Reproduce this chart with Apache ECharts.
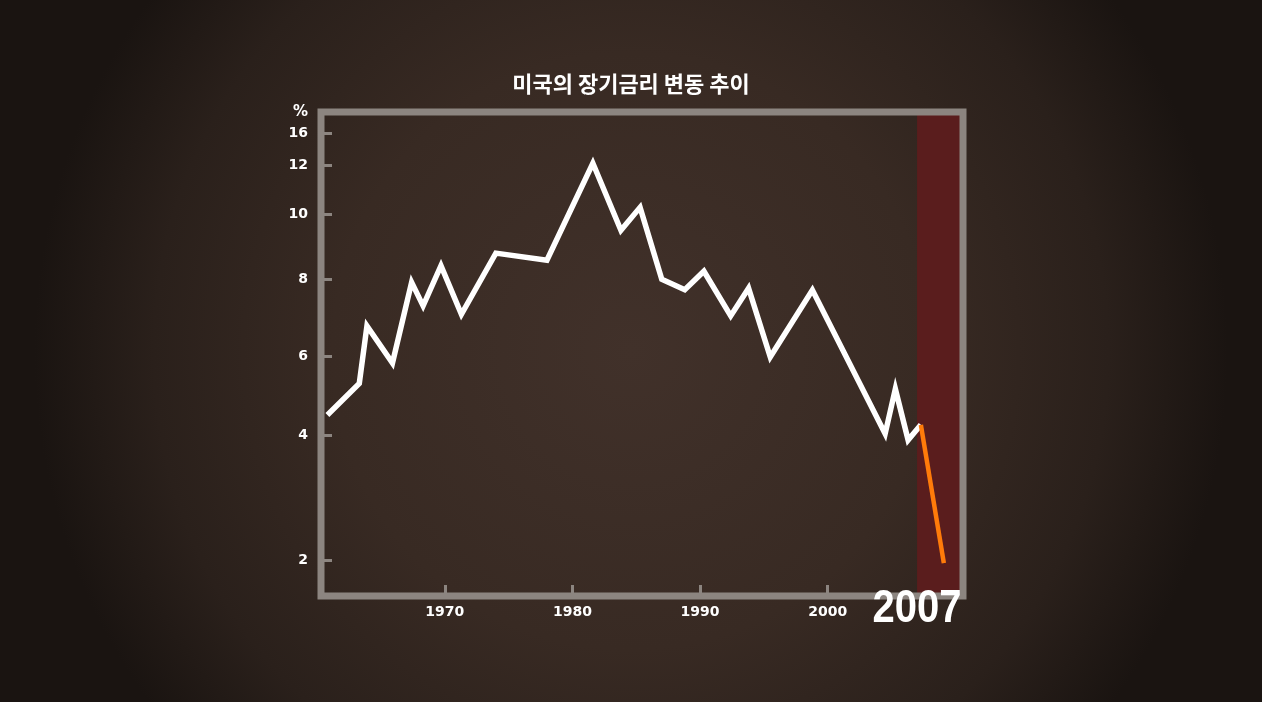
<!DOCTYPE html>
<html>
<head>
<meta charset="utf-8">
<script src="https://cdn.jsdelivr.net/npm/echarts@6/dist/echarts.min.js"></script>
<style>
  html, body { margin: 0; padding: 0; background: #2a201b; }
  #chart { width: 1262px; height: 702px; }
</style>
</head>
<body>
<div id="chart"></div>
<script>
// 미국의 장기금리 (%) - 그림에서 읽은 값
const years = [1960.8, 1963.3, 1963.9, 1965.9, 1967.4, 1968.3, 1969.7, 1971.3, 1974.0, 1978.0,
  1981.6, 1983.8, 1985.3, 1987.0, 1988.8, 1990.3, 1992.4, 1993.8, 1995.5, 1998.8,
  2004.5, 2005.3, 2006.3, 2007.3];
const rates = [4.51, 5.31, 6.79, 5.83, 7.92, 7.31, 8.42, 7.09, 8.81, 8.59,
  12.3, 9.52, 10.3, 8.0, 7.73, 8.25, 7.05, 7.77, 5.98, 7.72,
  4.03, 5.17, 3.92, 4.26];
// 2007년 이후 급락 구간
const dropYears = [2007.3, 2009.1];
const dropRates = [4.26, 1.95];

// y축 눈금 (불균등 눈금)
const yTicks = [2, 4, 6, 8, 10, 12, 16];
const yTickLevels = [36, 161, 239.7, 316.7, 381.3, 430.3, 462.7];
const yMaxLevel = 484;

const xTicks = [1970, 1980, 1990, 2000];
const highlightYear = 2007;
const xMin = 1960.3;
const xMax = 2010.6;

// 값 -> 축 위치 (눈금 사이 선형 보간)
function toLevel(v) {
  let i = 0;
  while (i < yTicks.length - 2 && v > yTicks[i + 1]) i++;
  const t = (v - yTicks[i]) / (yTicks[i + 1] - yTicks[i]);
  return yTickLevels[i] + t * (yTickLevels[i + 1] - yTickLevels[i]);
}

const frameColor = '#8c8580';
const labelFont = 'DejaVu Sans';

const chart = echarts.init(document.getElementById('chart'));

const option = {
  backgroundColor: {
    type: 'radial', x: 0.5, y: 0.5, r: 0.85,
    colorStops: [
      { offset: 0, color: '#41312a' },
      { offset: 0.5, color: '#382a23' },
      { offset: 0.8, color: '#2a201b' },
      { offset: 1, color: '#1a1411' }
    ]
  },
  animation: false,
  title: {
    text: '미국의 장기금리 변동 추이',
    left: 'center',
    top: 68,
    textStyle: {
      color: '#ffffff',
      fontSize: 22,
      fontWeight: 'bold',
      fontFamily: 'Noto Sans CJK KR'
    }
  },
  grid: {
    left: 321, right: 299, top: 112, bottom: 106,
    show: true,
    z: 10,
    backgroundColor: 'transparent',
    borderColor: frameColor,
    borderWidth: 7,
    outerBoundsMode: 'none'
  },
  xAxis: {
    type: 'value',
    min: xMin, max: xMax,
    position: 'bottom',
    splitLine: { show: false },
    axisLine: { show: false },
    axisTick: {
      show: true, inside: true, length: 11,
      customValues: xTicks,
      lineStyle: { color: frameColor, width: 3 }
    },
    axisLabel: {
      customValues: xTicks,
      margin: 9,
      color: '#ffffff',
      fontSize: 14,
      fontWeight: 'bold',
      fontFamily: labelFont,
      formatter: v => String(v)
    }
  },
  yAxis: {
    type: 'value',
    min: 0, max: yMaxLevel,
    name: '%',
    nameLocation: 'end',
    nameGap: 0,
    nameTextStyle: {
      color: '#ffffff',
      fontSize: 15,
      fontWeight: 'bold',
      fontFamily: labelFont,
      align: 'right',
      verticalAlign: 'middle',
      padding: [0, 13, 0, 0]
    },
    splitLine: { show: false },
    axisLine: { show: false },
    axisTick: {
      show: true, inside: true, length: 11,
      customValues: yTickLevels,
      lineStyle: { color: frameColor, width: 3 }
    },
    axisLabel: {
      customValues: yTickLevels,
      margin: 13,
      color: '#ffffff',
      fontSize: 14,
      fontWeight: 'bold',
      fontFamily: labelFont,
      formatter: function (v) {
        const i = yTickLevels.findIndex(l => Math.abs(l - v) < 0.01);
        return i >= 0 ? String(yTicks[i]) : '';
      }
    }
  },
  series: [{
    // 2007년 강조 구간
    type: 'line',
    z: 1,
    data: [],
    silent: true,
    markArea: {
      silent: true,
      itemStyle: { color: '#5a1d1d' },
      data: [[{ xAxis: highlightYear }, { xAxis: xMax }]]
    }
  }, {
    type: 'line',
    z: 3,
    symbol: 'none',
    data: years.map((y, i) => [y, toLevel(rates[i])]),
    lineStyle: { color: '#ffffff', width: 5.5, join: 'miter', miterLimit: 10 }
  }, {
    type: 'line',
    z: 4,
    symbol: 'none',
    data: dropYears.map((y, i) => [y, toLevel(dropRates[i])]),
    lineStyle: { color: '#ff7b0a', width: 4.5, cap: 'butt' }
  }]
};

chart.setOption(option);

// 2007 큰 라벨 (좁은 글꼴 대신 가로 축소)
const pos = chart.convertToPixel({ gridIndex: 0 }, [highlightYear, 0]);
chart.setOption({
  graphic: [{
    type: 'text',
    x: pos[0],
    y: pos[1] - 10,
    scaleX: 0.87,
    z: 100,
    silent: true,
    style: {
      text: String(highlightYear),
      fill: '#ffffff',
      font: 'bold 46px "Liberation Sans", Arial, sans-serif',
      textAlign: 'center',
      textVerticalAlign: 'top'
    }
  }]
});
</script>
</body>
</html>
